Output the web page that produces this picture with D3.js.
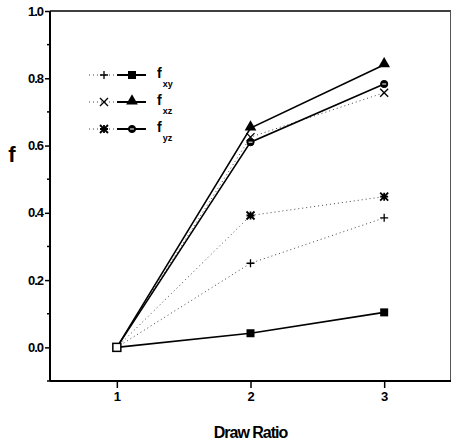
<!DOCTYPE html>
<html>
<head>
<meta charset="utf-8">
<script src="https://cdn.jsdelivr.net/npm/d3@7"></script>
<style>
body { margin: 0; background: #fff; }
svg { display: block; }
text { font-family: "Liberation Sans", Arial, sans-serif; font-weight: bold; fill: #000; }
</style>
</head>
<body>
<div class="chart"></div>
<script>
var drawRatio = [1, 2, 3];
var yTicks = [0.0, 0.2, 0.4, 0.6, 0.8, 1.0];
var yMinor = [-0.1, 0.1, 0.3, 0.5, 0.7, 0.9];

// dotted series (open markers)
var fxyDot = [0, 0.25, 0.385];
var fxzDot = [0, 0.625, 0.757];
var fyzDot = [0, 0.392, 0.448];
// solid series (filled markers)
var fxySolid = [0, 0.042, 0.104];
var fxzSolid = [0, 0.652, 0.84];
var fyzSolid = [0, 0.61, 0.783];

var legendNames = ['xy', 'xz', 'yz'];

var width = 452, height = 444;
var margins = { top: 11, left: 50, right: 1, bottom: 62 };

var svg = d3.select('div.chart').append('svg')
    .attr('width', width)
    .attr('height', height);

var x = d3.scaleLinear().domain([0.5, 3.5]).range([margins.left, width - margins.right]);
var y = d3.scaleLinear().domain([-0.1, 1.0]).range([height - margins.bottom - 1, margins.top]);

// frame
svg.append('line')
    .attr('x1', x(0.5)).attr('x2', x(3.5)).attr('y1', y(1.0)).attr('y2', y(1.0))
    .attr('stroke', '#000').attr('stroke-width', 1.5);
svg.append('line')
    .attr('x1', x(3.5) - 0.5).attr('x2', x(3.5) - 0.5).attr('y1', y(1.0)).attr('y2', y(-0.1))
    .attr('stroke', '#555').attr('stroke-width', 1);

var yAxis = d3.axisLeft(y).tickValues(yTicks).tickSize(5).tickPadding(2)
    .tickFormat(d3.format('.1f'));
var yAx = svg.append('g')
    .attr('transform', 'translate(' + x(0.5) + ',0)')
    .call(yAxis);
yAx.select('.domain').attr('stroke-width', 2).attr('d', 'M0,' + y(-0.1) + 'V' + y(1.0));
yAx.selectAll('.tick line').attr('stroke-width', 1.5);
yAx.selectAll('text').style('font-size', '13px').style('font-family', '"Liberation Sans", Arial, sans-serif')
    .style('font-weight', 'bold').style('letter-spacing', '-1px');

svg.append('g').selectAll('line')
    .data(yMinor)
    .enter().append('line')
    .attr('x1', x(0.5) - 3).attr('x2', x(0.5))
    .attr('y1', function (d) { return y(d); })
    .attr('y2', function (d) { return y(d); })
    .attr('stroke', '#000').attr('stroke-width', 1.5);

var xAxis = d3.axisBottom(x).tickValues(drawRatio).tickSize(7).tickPadding(4)
    .tickFormat(d3.format('d'));
var xAx = svg.append('g')
    .attr('transform', 'translate(0,' + y(-0.1) + ')')
    .call(xAxis);
xAx.select('.domain').attr('stroke-width', 2).attr('d', 'M' + x(0.5) + ',0H' + x(3.5));
xAx.selectAll('.tick line').attr('stroke-width', 1.5);
xAx.selectAll('text').style('font-size', '13px').style('font-family', '"Liberation Sans", Arial, sans-serif')
    .style('font-weight', 'bold');

// axis titles
svg.append('text')
    .attr('x', x(2)).attr('y', 438)
    .attr('text-anchor', 'middle')
    .style('font-size', '16px')
    .style('letter-spacing', '-1px')
    .text('Draw Ratio');
svg.append('text')
    .attr('x', 12).attr('y', 162)
    .attr('text-anchor', 'middle')
    .style('font-size', '22px')
    .text('f');

// markers
function marker(g, type, cx, cy) {
    var s = 4;
    if (type === 'plus') {
        g.append('path').attr('d', 'M' + (cx - s) + ',' + cy + 'H' + (cx + s) + 'M' + cx + ',' + (cy - s) + 'V' + (cy + s))
            .attr('stroke', '#000').attr('stroke-width', 1.3).attr('fill', 'none');
    } else if (type === 'x') {
        g.append('path').attr('d', 'M' + (cx - s) + ',' + (cy - s) + 'L' + (cx + s) + ',' + (cy + s) +
            'M' + (cx - s) + ',' + (cy + s) + 'L' + (cx + s) + ',' + (cy - s))
            .attr('stroke', '#000').attr('stroke-width', 1.3).attr('fill', 'none');
    } else if (type === 'star') {
        g.append('path').attr('d', 'M' + (cx - s) + ',' + (cy - s) + 'L' + (cx + s) + ',' + (cy + s) +
            'M' + (cx - s) + ',' + (cy + s) + 'L' + (cx + s) + ',' + (cy - s) +
            'M' + (cx - s) + ',' + cy + 'H' + (cx + s) + 'M' + cx + ',' + (cy - s) + 'V' + (cy + s))
            .attr('stroke', '#000').attr('stroke-width', 1.8).attr('fill', 'none');
    } else if (type === 'square') {
        g.append('rect').attr('x', cx - 4).attr('y', cy - 4).attr('width', 8).attr('height', 8)
            .attr('fill', '#000');
    } else if (type === 'triangle') {
        g.append('path').attr('d', d3.symbol().type(d3.symbolTriangle).size(60)())
            .attr('transform', 'translate(' + cx + ',' + (cy - 1) + ')')
            .attr('fill', '#000');
    } else if (type === 'circle') {
        g.append('circle').attr('cx', cx).attr('cy', cy).attr('r', 3.6)
            .attr('fill', '#000').attr('stroke', '#000');
        g.append('line').attr('x1', cx - 2).attr('x2', cx + 2).attr('y1', cy).attr('y2', cy)
            .attr('stroke', '#fff').attr('stroke-width', 1);
    }
}

var series = [
    { values: fxyDot, dotted: true, mark: 'plus' },
    { values: fxzDot, dotted: true, mark: 'x' },
    { values: fyzDot, dotted: true, mark: 'star' },
    { values: fxySolid, dotted: false, mark: 'square' },
    { values: fxzSolid, dotted: false, mark: 'triangle' },
    { values: fyzSolid, dotted: false, mark: 'circle' }
];

var line = d3.line()
    .x(function (d, i) { return x(drawRatio[i]); })
    .y(function (d) { return y(d); });

var plot = svg.append('g');
series.forEach(function (s) {
    plot.append('path')
        .attr('d', line(s.values))
        .attr('fill', 'none')
        .attr('stroke', s.dotted ? '#444' : '#000')
        .attr('stroke-width', s.dotted ? 1 : 1.6)
        .attr('stroke-dasharray', s.dotted ? '1,3' : null);
    s.values.forEach(function (v, i) {
        if (i === 0) return;
        marker(plot, s.mark, x(drawRatio[i]), y(v));
    });
});
// open square at the origin where all series meet
plot.append('rect')
    .attr('x', x(1) - 4).attr('y', y(0) - 4).attr('width', 8).attr('height', 8)
    .attr('fill', '#fff').attr('stroke', '#000').attr('stroke-width', 1.5);

// legend
var legend = svg.append('g');
var dotMarks = ['plus', 'x', 'star'];
var solidMarks = ['square', 'triangle', 'circle'];
legendNames.forEach(function (name, i) {
    var ly = 75 + i * 27;
    legend.append('line').attr('x1', 89).attr('x2', 116).attr('y1', ly).attr('y2', ly)
        .attr('stroke', '#444').attr('stroke-dasharray', '1,3');
    marker(legend, dotMarks[i], 104, ly);
    legend.append('line').attr('x1', 117).attr('x2', 146).attr('y1', ly).attr('y2', ly)
        .attr('stroke', '#000').attr('stroke-width', 2);
    marker(legend, solidMarks[i], 132, ly);
    var t = legend.append('text').attr('x', 157).attr('y', ly + 3).style('font-size', '14px');
    t.append('tspan').text('f');
    t.append('tspan').attr('dx', 1).attr('dy', 9).style('font-size', '9px').text(name);
});
</script>
</body>
</html>
